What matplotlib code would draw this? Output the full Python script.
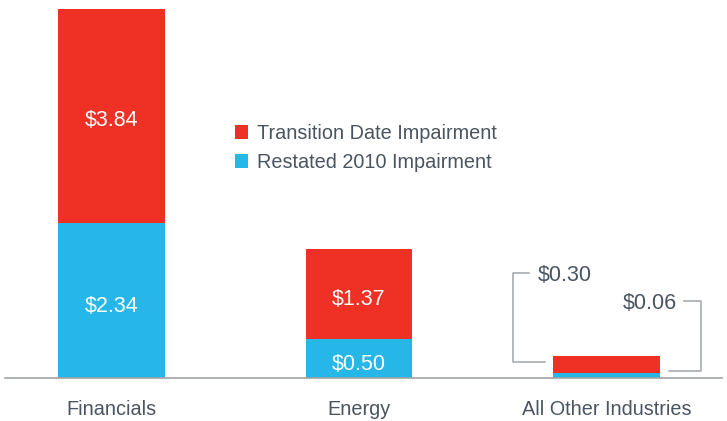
import matplotlib.pyplot as plt
import numpy as np

# data (bar heights as drawn, labels as printed)
categories = ['Financials', 'Energy', 'All Other Industries']
restated_2010 = [2.60, 0.65, 0.085]
transition_date = [3.58, 1.51, 0.285]
restated_labels = ['$2.34', '$0.50', '$0.06']
transition_labels = ['$3.84', '$1.37', '$0.30']

RED = '#EE3124'
BLUE = '#27B6E8'
TEXT = '#4A5561'
plt.rcParams['font.family'] = ['Liberation Sans', 'DejaVu Sans']

fig = plt.figure(figsize=(7.27, 4.21), dpi=100)
ax = fig.add_axes([5/727, 43/421, 717/727, 376/421])

x = np.arange(len(categories))
w = 0.432
ax.bar(x, restated_2010, w, color=BLUE, label='Restated 2010 Impairment')
ax.bar(x, transition_date, w, bottom=restated_2010, color=RED, label='Transition Date Impairment')

ax.set_xlim((5 - 111.5) / 247.5, (722 - 111.5) / 247.5)
ax.set_ylim(0, 6.3)

# labels inside the two big bars
for i in range(2):
    ax.text(x[i], restated_2010[i] / 2 - 0.06, restated_labels[i], ha='center', va='center_baseline',
            color='white', fontsize=15.5)
    ax.text(x[i], restated_2010[i] + transition_date[i] / 2 - 0.04, transition_labels[i],
            ha='center', va='center_baseline', color='white', fontsize=15.5)

# bracket callouts for the small bar
c = x[2]
lc = '#A0A4A8'
ax.plot([c - 0.248, c - 0.378, c - 0.378, c - 0.313], [0.27, 0.27, 1.76, 1.76],
        color=lc, lw=1.1, clip_on=False)
ax.text(c - 0.277, 1.76, transition_labels[2], ha='left', va='center_baseline', color=TEXT, fontsize=15.5)
ax.plot([c + 0.253, c + 0.382, c + 0.382, c + 0.313], [0.117, 0.117, 1.29, 1.29],
        color=lc, lw=1.1, clip_on=False)
ax.text(c + 0.285, 1.29, restated_labels[2], ha='right', va='center_baseline', color=TEXT, fontsize=15.5)

for s in ['top', 'right', 'left']:
    ax.spines[s].set_visible(False)
ax.spines['bottom'].set_color('#A0A4A8')
ax.spines['bottom'].set_linewidth(1.2)
ax.set_yticks([])
ax.set_xticks(x)
ax.set_xticklabels(categories, fontsize=14.3, color=TEXT)
ax.tick_params(axis='x', length=0, pad=16)

h, l = ax.get_legend_handles_labels()
leg = ax.legend(h[::-1], l[::-1], loc='upper left', bbox_to_anchor=(222/717, 262/376),
                frameon=False, fontsize=14.3, handlelength=0.65, handleheight=0.65,
                handletextpad=0.45, labelspacing=0.5, borderaxespad=0)
for t in leg.get_texts():
    t.set_color(TEXT)

fig.savefig('out.png', dpi=100)
